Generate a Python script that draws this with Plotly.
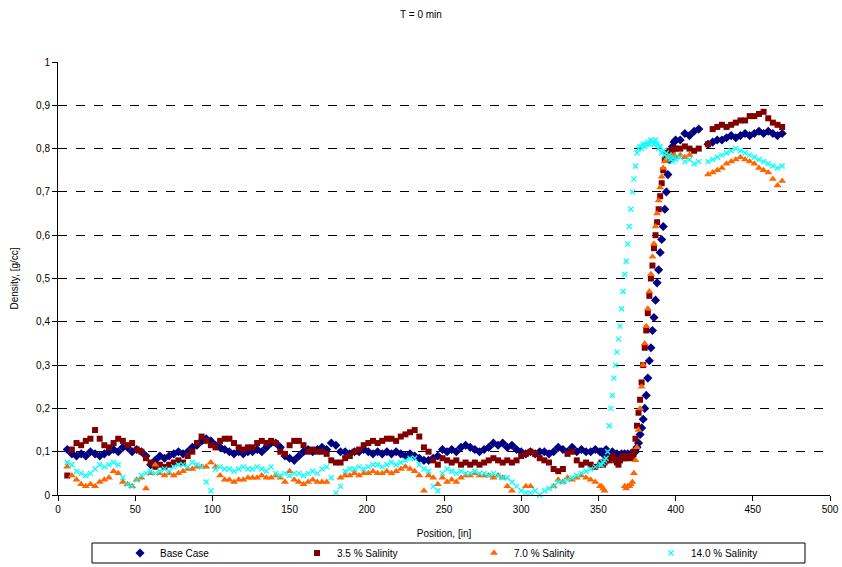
import numpy as np
import plotly.graph_objects as go

# Positions (in): coarse grid, fine grid through the density front, coarse grid after
pos_a = np.arange(6, 352, 3)
pos_b = np.arange(352, 401, 1)
pos_c = np.arange(403, 470, 3)
position = np.concatenate([pos_a, pos_b, pos_c])

N = None

base_case = [
    0.105, 0.095, 0.09, 0.095, 0.09, 0.1, 0.095, 0.09, 0.095, 0.1,
    0.105, 0.1, 0.11, 0.11, 0.1, 0.105, 0.1, 0.09, 0.07, 0.08,
    0.09, 0.085, 0.09, 0.095, 0.1, 0.095, 0.1, 0.11, 0.115, 0.125,
    0.13, 0.125, 0.115, 0.11, 0.105, 0.1, 0.095, 0.1, 0.095, 0.1,
    0.1, 0.105, 0.1, 0.11, 0.12, 0.12, 0.11, 0.09, 0.085, 0.08,
    0.09, 0.1, 0.105, 0.1, 0.105, 0.11, 0.105, 0.12, 0.115, 0.1,
    0.1, 0.095, 0.1, 0.1, 0.105, 0.1, 0.095, 0.1, 0.095, 0.1,
    0.095, 0.1, 0.095, 0.09, 0.095, 0.09, 0.085, 0.08, 0.08, 0.085,
    0.09, 0.105, 0.1, 0.105, 0.1, 0.11, 0.115, 0.11, 0.105, 0.1,
    0.105, 0.11, 0.12, 0.115, 0.12, 0.11, 0.115, 0.105, 0.1, 0.095,
    0.1, 0.095, 0.1, 0.1, 0.095, 0.1, 0.11, 0.105, 0.1, 0.11,
    0.1, 0.105, 0.1, 0.1, 0.105, 0.1,
    # 352-400
    0.1, 0.095, 0.1, 0.105, 0.1, 0.095, 0.09, 0.1, 0.095, 0.09, 0.095,
    0.09, 0.09, 0.095, 0.09, 0.095, 0.09, 0.095, 0.09, 0.095, 0.09, 0.1,
    0.1, 0.11, 0.12, 0.14, 0.155, 0.175, 0.2, 0.23, 0.27, 0.31, 0.34, 0.38,
    0.41, 0.45, 0.49, 0.52, 0.56, 0.59, 0.62, 0.66, 0.7, 0.74, 0.775, 0.795,
    0.805, 0.815, 0.82,
    # 403-469
    0.82, 0.835, 0.83, 0.84, 0.845, N, 0.81, 0.815, 0.82, 0.82, 0.825, 0.83,
    0.825, 0.83, 0.835, 0.83, 0.835, 0.84, 0.835, 0.84, 0.835, 0.83, 0.835,
]

salinity_3_5 = [
    0.045, 0.105, 0.12, 0.115, 0.125, 0.13, 0.15, 0.13, 0.115, 0.11,
    0.12, 0.13, 0.125, 0.115, 0.12, 0.105, 0.1, 0.085, 0.075, 0.065,
    0.07, 0.065, 0.07, 0.075, 0.08, 0.075, 0.09, 0.1, 0.12, 0.135,
    0.125, 0.115, 0.11, 0.125, 0.13, 0.13, 0.12, 0.11, 0.105, 0.11,
    0.11, 0.12, 0.125, 0.12, 0.125, 0.12, 0.1, 0.095, 0.115, 0.125,
    0.125, 0.115, 0.1, 0.105, 0.1, 0.1, 0.095, 0.08, 0.075, 0.075,
    0.085, 0.09, 0.1, 0.105, 0.115, 0.12, 0.125, 0.12, 0.125, 0.13,
    0.13, 0.125, 0.135, 0.14, 0.145, 0.15, 0.135, 0.11, 0.1, 0.08,
    0.07, 0.085, 0.08, 0.075, 0.08, 0.07, 0.075, 0.07, 0.075, 0.07,
    0.075, 0.08, 0.085, 0.08, 0.075, 0.08, 0.075, 0.08, 0.09, 0.095,
    0.1, 0.095, 0.085, 0.08, 0.075, 0.06, 0.055, 0.06, 0.095, 0.1,
    0.08, 0.07, 0.075, 0.07, 0.065, 0.07,
    # 352-400
    0.075, 0.07, 0.075, 0.08, 0.085, 0.08, 0.085, 0.09, 0.085, 0.08, 0.075,
    0.07, 0.08, 0.085, 0.09, 0.085, 0.085, 0.09, 0.09, 0.085, 0.09,
    0.1, 0.13, 0.16, 0.19, 0.22, 0.26, 0.3, 0.34, 0.38, 0.42, 0.46, 0.5,
    0.53, 0.57, 0.6, 0.63, 0.66, 0.69, 0.72, 0.75, 0.775, 0.785, 0.79, 0.795,
    0.79, 0.795, 0.8, 0.8,
    # 403-469
    0.8, 0.805, 0.8, 0.795, 0.8, N, 0.81, 0.845, 0.85, 0.855, 0.85, 0.855,
    0.86, 0.865, 0.865, 0.875, 0.875, 0.88, 0.885, 0.87, 0.86, 0.855, 0.85,
]

salinity_7_0 = [
    0.065, 0.045, 0.035, 0.025, 0.02, 0.025, 0.02, 0.03, 0.035, 0.04,
    0.055, 0.05, 0.03, 0.025, 0.02, 0.035, 0.04, 0.015, 0.05, 0.07,
    0.05, 0.045, 0.05, 0.045, 0.05, 0.055, 0.06, 0.06, 0.065, 0.065,
    0.065, 0.075, 0.065, 0.045, 0.035, 0.035, 0.03, 0.035, 0.035, 0.04,
    0.04, 0.04, 0.045, 0.04, 0.04, 0.045, 0.04, 0.03, 0.055, 0.035,
    0.03, 0.025, 0.03, 0.035, 0.03, 0.03, 0.03, N, N, 0.04,
    0.045, 0.045, 0.05, 0.045, 0.05, 0.05, 0.055, 0.05, 0.05, 0.055,
    0.05, 0.055, 0.06, 0.065, 0.06, 0.055, 0.045, 0.01, 0.045, 0.04,
    0.025, 0.04, 0.03, 0.035, 0.03, 0.04, 0.045, 0.045, 0.05, 0.045,
    0.045, 0.045, 0.04, 0.045, 0.04, 0.02, 0.01, N, N, 0.02,
    0.02, N, N, N, N, 0.02, 0.035, 0.03, 0.04, 0.035,
    0.04, 0.045, 0.04, 0.035, 0.03, 0.02,
    # 352-400
    0.02, 0.015, 0.01, N, N, N, N, N, N, N, N, N, N, N, N,
    0.02, 0.015, 0.02, 0.02, 0.025, 0.03, 0.05, 0.08, 0.11, 0.15, 0.2, 0.25,
    0.3, 0.35, 0.39, 0.43, 0.47, 0.51, 0.55, 0.58, 0.62, 0.65, 0.68, 0.71,
    0.735, 0.755, 0.77, 0.775, 0.78, 0.78, 0.785, 0.78, 0.785, 0.78,
    # 403-469
    0.785, 0.78, 0.785, N, N, N, 0.74, 0.745, 0.75, 0.755, 0.765, 0.77,
    0.775, 0.78, 0.775, 0.77, 0.765, 0.755, 0.75, 0.745, 0.73, 0.715, 0.725,
]

salinity_14_0 = [
    0.075, 0.07, 0.055, 0.05, 0.045, 0.05, 0.06, 0.07, 0.065, 0.07,
    0.075, 0.07, 0.04, 0.025, 0.02, 0.035, 0.045, 0.05, 0.055, 0.05,
    0.055, 0.06, 0.055, 0.065, 0.07, 0.07, 0.065, 0.075, 0.07, 0.065,
    0.03, 0.01, 0.06, 0.065, 0.06, 0.06, 0.055, 0.06, 0.065, 0.06,
    0.06, 0.065, 0.06, 0.055, 0.065, 0.05, 0.045, 0.05, 0.045, 0.05,
    0.05, 0.045, 0.05, 0.055, 0.05, 0.06, 0.065, 0.04, 0.005, 0.02,
    0.055, 0.06, 0.06, 0.065, 0.06, 0.065, 0.07, 0.07, 0.065, 0.07,
    0.075, 0.07, 0.075, 0.08, 0.085, 0.085, 0.07, 0.06, 0.055, 0.02,
    0.01, 0.05, 0.06, 0.055, 0.05, 0.055, 0.05, 0.05, 0.055, 0.05,
    0.05, 0.045, 0.05, 0.045, 0.04, 0.04, 0.03, 0.02, 0.01, 0.005,
    0.005, 0.01, 0.0, 0.01, 0.015, 0.02, 0.03, 0.03, 0.035, 0.04,
    0.045, 0.05, 0.055, 0.06, 0.065, 0.07,
    # 352-400
    0.07, 0.075, 0.08, 0.085, 0.1, 0.16, 0.2, 0.23, 0.27, 0.3, 0.33, 0.36,
    0.39, 0.43, 0.47, 0.51, 0.54, 0.58, 0.62, 0.66, 0.7, 0.73, 0.76, 0.79,
    0.8, 0.805, 0.8, 0.81, 0.805, 0.81, 0.815, 0.81, 0.82, 0.815, 0.81, 0.82,
    0.81, 0.8, 0.805, 0.79, 0.795, 0.785, 0.79, 0.78, 0.785, 0.775, 0.77,
    0.78, 0.775,
    # 403-469
    0.78, 0.77, 0.775, 0.765, 0.77, N, 0.77, 0.775, 0.78, 0.785, 0.79, 0.795,
    0.8, 0.795, 0.79, 0.785, 0.78, 0.775, 0.77, 0.765, 0.76, 0.755, 0.76,
]

series_names = ["Base Case", "3.5 % Salinity", "7.0 % Salinity", "14.0 % Salinity"]
series_values = [base_case, salinity_3_5, salinity_7_0, salinity_14_0]
for v in series_values:
    assert len(v) == len(position), (len(v), len(position))

y_ticks = [0, 0.1, 0.2, 0.3, 0.4, 0.5, 0.6, 0.7, 0.8, 0.9, 1]
y_tick_labels = ["0", "0,1", "0,2", "0,3", "0,4", "0,5", "0,6", "0,7", "0,8", "0,9", "1"]
x_ticks = [0, 50, 100, 150, 200, 250, 300, 350, 400, 450, 500]

styles = [
    dict(color="#000080", symbol="diamond", size=7, line=dict(width=0)),
    dict(color="#800000", symbol="square", size=6, line=dict(width=0)),
    dict(color="#FF6600", symbol="triangle-up", size=7, line=dict(width=0)),
    dict(color="#00FFFF", symbol="x-thin", size=5, line=dict(width=1.3, color="#00FFFF")),
]

FONT = "Liberation Sans, Arial, sans-serif"

fig = go.Figure()
for name, vals, st in zip(series_names, series_values, styles):
    fig.add_trace(go.Scatter(
        x=position, y=vals, name=name, mode="markers", marker=st,
        cliponaxis=False,
    ))

fig.update_layout(
    width=842, height=567,
    margin=dict(l=58, r=12, t=62, b=72),
    paper_bgcolor="white", plot_bgcolor="white",
    font=dict(family=FONT, size=10, color="black"),
    title=dict(text="T = 0 min", x=0.5, xanchor="center", y=0.975, yanchor="middle",
               font=dict(family=FONT, size=10, color="black")),
    showlegend=True,
    legend=dict(orientation="h", xref="container", yref="container",
                x=120 / 842, xanchor="left", y=1 - 553 / 567, yanchor="middle",
                entrywidth=132, entrywidthmode="pixels", itemwidth=30,
                font=dict(family=FONT, size=10, color="black"),
                bgcolor="rgba(0,0,0,0)", borderwidth=0, tracegroupgap=0),
    shapes=[dict(type="rect", xref="paper", yref="paper",
                 x0=(92 - 58) / 772, x1=(805 - 58) / 772,
                 y0=-(563 - 495) / 433, y1=-(543 - 495) / 433,
                 line=dict(color="black", width=1), fillcolor="rgba(0,0,0,0)")],
)

fig.update_xaxes(
    range=[0, 500], tickvals=x_ticks, ticktext=[str(t) for t in x_ticks],
    showline=True, linecolor="black", linewidth=1, mirror=False, automargin=False,
    ticks="outside", ticklen=5, tickcolor="black", showgrid=False, zeroline=False,
    title=dict(text="Position, [in]", font=dict(family=FONT, size=10)),
    tickfont=dict(family=FONT, size=10),
)
fig.update_yaxes(
    range=[0, 1], tickvals=y_ticks, ticktext=y_tick_labels, automargin=False,
    showline=True, linecolor="black", linewidth=1,
    ticks="outside", ticklen=5, tickcolor="black",
    showgrid=True, gridcolor="black", griddash="dash", gridwidth=1, zeroline=False,
    title=dict(text="Density, [g/cc]", font=dict(family=FONT, size=10)),
    tickfont=dict(family=FONT, size=10),
)

fig.write_html("out.html")
